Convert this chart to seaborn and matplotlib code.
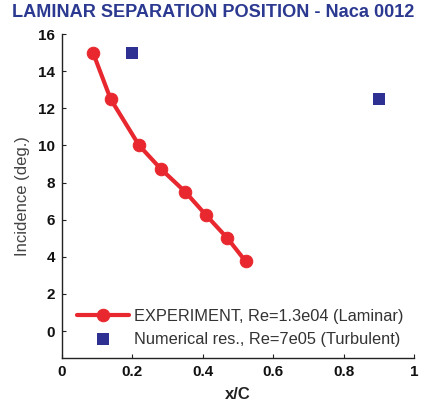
import numpy as np
import pandas as pd
import matplotlib
matplotlib.use("Agg")
import matplotlib.pyplot as plt
import seaborn as sns

# Laminar separation position measured on the NACA 0012 section
exp_xc = [0.088, 0.138, 0.219, 0.280, 0.350, 0.409, 0.470, 0.522]
exp_alpha = [15.0, 12.5, 10.0, 8.75, 7.5, 6.25, 5.0, 3.75]

# Numerical results (turbulent)
num_xc = [0.20, 0.90]
num_alpha = [15.0, 12.5]

x_ticks = [0, 0.2, 0.4, 0.6, 0.8, 1.0]
x_tick_labels = ["0", "0.2", "0.4", "0.6", "0.8", "1"]
y_ticks = [0, 2, 4, 6, 8, 10, 12, 14, 16]

exp_label = "EXPERIMENT, Re=1.3e04 (Laminar)"
num_label = "Numerical res., Re=7e05 (Turbulent)"

sns.set_theme(style="ticks")
plt.rcParams["font.family"] = ["Liberation Sans", "DejaVu Sans"]

red = "#E8282E"
blue = "#2E3192"

fig = plt.figure(figsize=(4.22, 4.05), dpi=100)
ax = fig.add_axes([62 / 422, 1 - 358 / 405, (414 - 62) / 422, (358 - 34) / 405])

exp_df = pd.DataFrame({"xc": exp_xc, "alpha": exp_alpha})
num_df = pd.DataFrame({"xc": num_xc, "alpha": num_alpha})

sns.lineplot(data=exp_df, x="xc", y="alpha", ax=ax, color=red, lw=3,
             marker="o", markersize=9, markeredgecolor=red, sort=False,
             label=exp_label)
sns.scatterplot(data=num_df, x="xc", y="alpha", ax=ax, color=blue, marker="s",
                s=70, edgecolor=blue, linewidth=0, label=num_label)

ax.set_xlim(0, 1)
ax.set_ylim(-1.45, 16)
ax.set_xticks(x_ticks)
ax.set_xticklabels(x_tick_labels)
ax.set_yticks(y_ticks)
ax.tick_params(direction="in", length=3, width=0.8, colors="#222222",
               labelcolor="#111111", labelsize=11, pad=5)
for lab in ax.get_xticklabels() + ax.get_yticklabels():
    lab.set_fontweight("bold")

for side in ("top", "right"):
    ax.spines[side].set_visible(False)
for side in ("left", "bottom"):
    ax.spines[side].set_linewidth(1.0)
    ax.spines[side].set_color("#222222")

ax.set_xlabel("x/C", fontsize=12, fontweight="bold", color="#222222", labelpad=6)
ax.set_ylabel("Incidence (deg.)", fontsize=12, color="#444444", labelpad=6)

fig.suptitle("LAMINAR SEPARATION POSITION - Naca 0012", x=0.505, y=0.99,
             fontsize=13.1, fontweight="bold", color="#2B3990")

leg = ax.legend(loc="lower left", frameon=False, fontsize=11.8,
                handlelength=3.2, borderaxespad=0.3, labelspacing=0.45,
                handletextpad=0.3, bbox_to_anchor=(0.01, 0.0))
for t in leg.get_texts():
    t.set_color("#333333")

fig.savefig("out.png", dpi=100)
